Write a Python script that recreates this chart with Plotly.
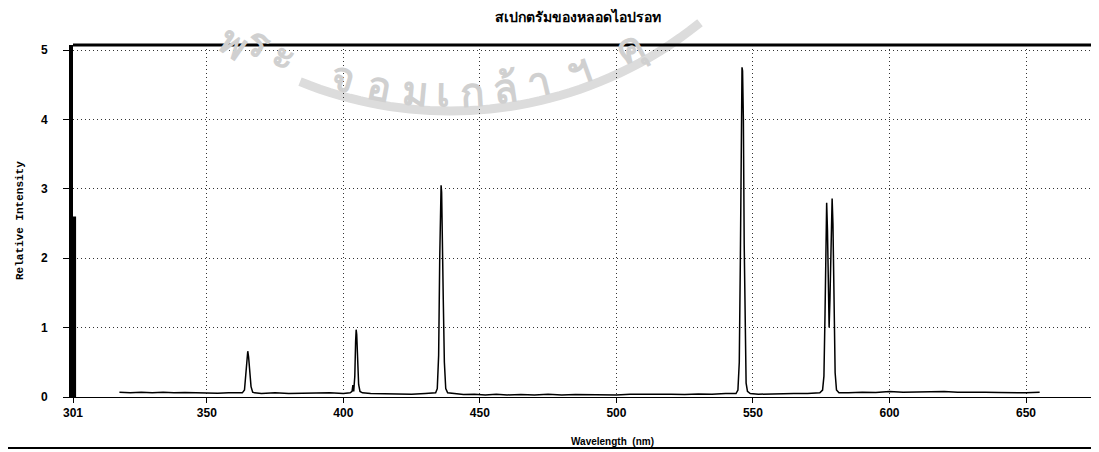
import math
import plotly.graph_objects as go

# ---- data ----
wavelength = [
    318, 322, 326, 330, 334, 338, 342, 346, 350, 354, 358, 362,
    363.0, 363.8, 364.3, 364.7, 365.0, 365.3, 365.7, 366.2, 366.8, 367.5,
    370, 375, 380, 385, 390, 395, 400,
    402.5, 403.2, 403.5, 403.8, 404.2, 404.5, 404.7, 404.9, 405.2, 405.6, 406.1, 407.0,
    410, 415, 420, 425, 430,
    433.8, 434.4, 434.9, 435.3, 435.6, 435.8, 436.0, 436.3, 436.6, 437.0, 437.5, 438.2,
    440, 444, 448, 452, 456, 460, 465, 470, 475, 480, 485, 490, 495, 500,
    505, 510, 515, 520, 525, 530, 535, 540,
    543.8, 544.5, 545.0, 545.4, 545.7, 546.0, 546.2, 546.5, 546.8, 547.1, 547.5, 548.0, 549.0,
    552, 556, 560, 565, 570,
    574.5, 575.5, 576.0, 576.4, 576.8, 577.0, 577.3, 577.6, 577.9, 578.2, 578.6, 579.0,
    579.3, 579.7, 580.1, 580.6, 581.5,
    585, 590, 595, 600, 605, 610, 615, 620, 625, 630, 635, 640, 645, 650, 655,
]
intensity = [
    0.07, 0.06, 0.07, 0.06, 0.07, 0.06, 0.065, 0.06, 0.06, 0.055, 0.06, 0.06,
    0.06, 0.10, 0.30, 0.55, 0.66, 0.58, 0.35, 0.15, 0.07, 0.06,
    0.05, 0.06, 0.05, 0.055, 0.05, 0.06, 0.05,
    0.06, 0.08, 0.17, 0.08, 0.30, 0.80, 0.97, 0.90, 0.50, 0.18, 0.08, 0.06,
    0.05, 0.045, 0.05, 0.04, 0.05,
    0.06, 0.12, 0.60, 2.00, 2.85, 3.05, 2.95, 2.40, 1.40, 0.50, 0.12, 0.06,
    0.05, 0.035, 0.04, 0.03, 0.04, 0.03, 0.035, 0.03, 0.04, 0.03, 0.035, 0.03, 0.035, 0.03,
    0.04, 0.035, 0.04, 0.04, 0.035, 0.045, 0.04, 0.05,
    0.05, 0.10, 0.50, 2.00, 3.80, 4.75, 4.70, 4.00, 2.20, 0.80, 0.20, 0.08, 0.05,
    0.04, 0.045, 0.04, 0.05, 0.05,
    0.06, 0.10, 0.30, 1.20, 2.50, 2.80, 2.40, 1.50, 1.00, 1.40, 2.50, 2.86,
    2.50, 1.20, 0.35, 0.10, 0.06,
    0.06, 0.07, 0.065, 0.08, 0.07, 0.075, 0.07, 0.08, 0.07, 0.075, 0.07, 0.065, 0.06, 0.06, 0.07,
]
edge_wavelength = [301.4, 301.4]
edge_intensity = [0, 2.6]

x_ticks = [301, 350, 400, 450, 500, 550, 600, 650]
x_tick_labels = ["301", "350", "400", "450", "500", "550", "600", "650"]
y_ticks = [0, 1, 2, 3, 4, 5]
y_tick_labels = ["0", "1", "2", "3", "4", "5"]

title_text = "สเปกตรัมของหลอดไอปรอท"
x_title = "Wavelength  (nm)"
y_title = "Relative Intensity"

# faint scanned watermark (seal text), decoration only
wm_clusters = ["พ", "ร", "ะ", "จ", "อ", "ม", "เ", "ก", "ล้", "า", "ฯ", "คุ"]
wm_page_x = [234, 259, 285, 343, 380, 415, 443, 472, 505, 538, 578, 628]

# ---- geometry (page pixels; the page body adds an 8px offset) ----
BODY = 8
FIG_W, FIG_H = 1099 - BODY, 452 - BODY
PLOT_L, PLOT_R, PLOT_T, PLOT_B = 73, 1097, 45, 397
PW, PH = PLOT_R - PLOT_L, PLOT_B - PLOT_T


def px(page_x):
    return (page_x - PLOT_L) / PW


def py(page_y):
    return (PLOT_B - page_y) / PH


fig = go.Figure()
fig.add_trace(go.Scatter(x=edge_wavelength, y=edge_intensity, mode="lines",
                         line=dict(color="black", width=4), hoverinfo="skip",
                         showlegend=False))
fig.add_trace(go.Scatter(x=wavelength, y=intensity, mode="lines",
                         line=dict(color="black", width=1.5), showlegend=False))

# watermark arc geometry
CX, CY, R_TEXT, R_BAND = 450, -287, 378, 398
annotations = []
for ch, wx in zip(wm_clusters, wm_page_x):
    wy = CY + math.sqrt(R_TEXT ** 2 - (wx - CX) ** 2)
    ang = math.degrees(math.atan2(wy - CY, wx - CX)) - 90
    wy = max(wy, 42)
    annotations.append(dict(text=ch, xref="paper", yref="paper", x=px(wx), y=py(wy),
                            textangle=ang, showarrow=False, xanchor="center", yanchor="middle",
                            font=dict(size=40, color="#d0d0d0", weight="bold")))

band_pts = []
bx = 300
while bx <= 700:
    by = CY + math.sqrt(R_BAND ** 2 - (bx - CX) ** 2)
    band_pts.append((px(bx), py(by)))
    bx += 10
band_path = "M " + " L ".join(f"{a:.4f},{b:.4f}" for a, b in band_pts)

annotations += [
    dict(text=y_title, xref="paper", yref="paper", x=px(20), y=0.5,
         textangle=-90, showarrow=False, xanchor="center", yanchor="middle",
         font=dict(family="Liberation Mono", size=11, color="black", weight="bold")),
    dict(text=x_title, xref="paper", yref="paper", x=px(612), y=py(441),
         showarrow=False, xanchor="center", yanchor="middle",
         font=dict(family="Liberation Sans", size=10, color="black", weight="bold")),
    dict(text=title_text, xref="paper", yref="paper", x=px(578), y=py(17),
         showarrow=False, xanchor="center", yanchor="middle",
         font=dict(size=14, color="black", weight="bold")),
]

fig.update_layout(
    width=FIG_W, height=FIG_H,
    margin=dict(l=PLOT_L - BODY, r=FIG_W - (PLOT_R - BODY), t=PLOT_T - BODY,
                b=FIG_H - (PLOT_B - BODY)),
    paper_bgcolor="white", plot_bgcolor="white",
    showlegend=False,
    xaxis=dict(range=[301, 676], tickvals=x_ticks, ticktext=x_tick_labels,
               showgrid=True, gridcolor="#333", griddash="1px,3px", gridwidth=1,
               showline=True, linecolor="black", linewidth=1,
               ticks="outside", ticklen=5, tickcolor="black",
               tickfont=dict(family="Liberation Sans", size=12, color="black", weight="bold"),
               zeroline=False, fixedrange=True),
    yaxis=dict(range=[0, (PLOT_B - PLOT_T) / 69.4], tickvals=y_ticks, ticktext=y_tick_labels,
               showgrid=True, gridcolor="#333", griddash="1px,3px", gridwidth=1,
               showline=True, linecolor="black", linewidth=4,
               ticks="outside", ticklen=6, tickcolor="black", ticklabelstandoff=13,
               tickfont=dict(family="Liberation Sans", size=12, color="black", weight="bold"),
               zeroline=False, fixedrange=True),
    annotations=annotations,
    shapes=[
        dict(type="path", xref="paper", yref="paper", path=band_path, layer="below",
             line=dict(color="#dcdcdc", width=9)),
        dict(type="line", xref="paper", yref="paper", x0=0, x1=px(1099), y0=1.0, y1=1.0,
             line=dict(color="black", width=3)),
        dict(type="line", xref="paper", yref="paper", x0=px(BODY), x1=px(1099),
             y0=py(448), y1=py(448), line=dict(color="black", width=2)),
    ],
)

fig.write_html("out.html")
